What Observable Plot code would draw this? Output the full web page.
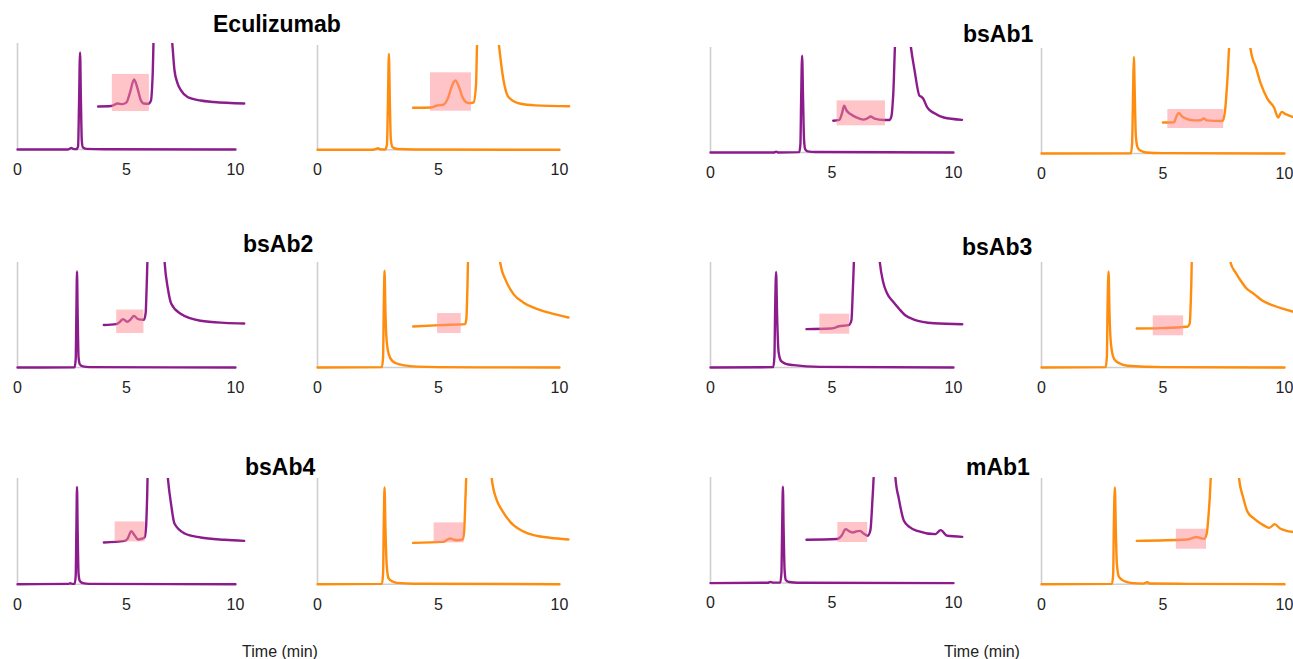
<!DOCTYPE html>
<html>
<head>
<meta charset="utf-8">
<script src="https://cdn.jsdelivr.net/npm/d3@7"></script>
<script src="https://cdn.jsdelivr.net/npm/@observablehq/plot@0.6"></script>
<style>
html,body{margin:0;padding:0;background:#fff;}
#chart{position:relative;width:1293px;height:659px;overflow:hidden;background:#fff;}
#chart svg{position:absolute;}
</style>
</head>
<body>
<div id="chart"></div>
<script>
// ---------- DATA ----------
const sampleNames = ["Eculizumab", "bsAb1", "bsAb2", "bsAb3", "bsAb4", "mAb1"];
const axisTitle = "Time (min)";
const tickValues = [0, 5, 10];

// Each trace: [time (min), signal (% of panel height)]
const ecuPurpleMain = [[0,0],[2.3,0],[2.4,0.8],[2.47,1.5],[2.55,0.6],[2.7,0.3],[2.78,3],[2.82,40],[2.87,91.5],[2.91,45],[2.95,8],[3.0,2],[3.15,0.6],[4,0.2],[10,0]];
const ecuPurpleInset = [[3.7,40.6],[4.3,41],[4.6,43.4],[4.8,42.8],[5.0,44.5],[5.15,53],[5.35,66],[5.5,58],[5.65,47],[5.8,43.4],[6.0,43.2],[6.12,46],[6.2,70],[6.26,110],[7.05,110],[7.1,100],[7.2,75],[7.35,62],[7.5,55.7],[7.8,49.5],[8.4,46.2],[9.0,44.8],[10.4,43.4]];
const ecuPurpleBox = [4.35, 6.05, 35.8, 70.8];

const ecuOrangeMain = [[0,0],[2.3,0],[2.42,0.8],[2.5,1.5],[2.58,0.5],[2.8,0.3],[2.87,5],[2.91,45],[2.95,92],[2.99,45],[3.03,10],[3.1,2.5],[3.3,0.8],[4,0.3],[10,0]];
const ecuOrangeInset = [[3.95,40.3],[4.7,40.6],[4.94,42.5],[5.2,43.2],[5.4,50],[5.55,61],[5.7,66.4],[5.85,60],[6.0,50],[6.15,45.5],[6.3,44.7],[6.45,45.5],[6.55,62],[6.61,110],[7.45,110],[7.5,100],[7.65,72],[7.9,50.4],[8.4,44.1],[9.0,42.6],[10.4,41.8]];
const ecuOrangeBox = [4.67, 6.36, 37, 73.8];

const bsAb1PurpleMain = [[0,0],[2.6,0],[2.7,0.8],[2.8,0],[3.65,0.3],[3.7,8],[3.73,50],[3.77,92.1],[3.81,50],[3.85,12],[3.9,3],[4.0,1],[4.3,0.4],[10,0]];
const bsAb1PurpleInset = [[5.05,30.2],[5.3,31],[5.42,38],[5.5,44.5],[5.6,40],[5.76,36.6],[6.0,33.5],[6.3,31.3],[6.5,33],[6.58,34.3],[6.75,32.3],[7.13,31],[7.37,31],[7.45,35],[7.52,55],[7.62,110],[8.2,110],[8.25,100],[8.4,78],[8.6,54],[8.68,53],[8.74,51.8],[8.92,42.9],[9.2,37.5],[9.6,33.3],[10.35,31.1]];
const bsAb1PurpleBox = [5.21, 7.2, 25.4, 49.2];

const bsAb1OrangeMain = [[0,0],[3.68,0.2],[3.73,10],[3.77,60],[3.8,92],[3.84,55],[3.88,18],[3.95,6],[4.05,3],[4.3,1],[5,0.3],[10,0]];
const bsAb1OrangeInset = [[5.0,29.5],[5.45,29.8],[5.55,35],[5.64,38.7],[5.8,35],[5.94,33.3],[6.3,31.5],[6.56,31.7],[6.67,33.3],[6.8,31.5],[7.45,31],[7.55,40],[7.65,70],[7.76,110],[8.55,110],[8.6,100],[8.72,88],[8.78,85],[9.02,66.7],[9.3,52],[9.57,43.8],[9.74,34.3],[9.88,39.6],[10.05,37.5],[10.33,34.9]];
const bsAb1OrangeBox = [5.2, 7.5, 23.8, 41.9];

const bsAb2PurpleMain = [[0,0],[2.62,0.2],[2.67,8],[2.7,50],[2.73,91.4],[2.76,50],[2.8,10],[2.86,3],[3.0,1],[3.3,0.3],[10,0]];
const bsAb2PurpleInset = [[3.96,40.4],[4.53,41.3],[4.7,43.5],[4.84,46.1],[5.03,43.5],[5.2,46],[5.34,49.2],[5.53,46.1],[5.8,45.4],[5.88,52],[5.93,80],[5.98,110],[6.72,110],[6.75,100],[6.9,75],[7.06,60.4],[7.5,50.9],[8.4,44.5],[9.5,42.5],[10.4,41.9]];
const bsAb2PurpleBox = [4.55, 5.8, 32.4, 54.7];

const bsAb2OrangeMain = [[0,0],[2.66,0.3],[2.71,10],[2.74,60],[2.77,92.1],[2.81,50],[2.86,25],[2.94,13],[3.1,6],[3.28,3.8],[3.6,2],[4.1,0.8],[5,0.3],[10,0]];
const bsAb2OrangeInset = [[3.95,39],[5.06,40.4],[6.1,41.3],[6.15,46],[6.2,80],[6.23,110],[7.5,110],[7.55,100],[7.8,82],[8.1,69.9],[8.5,62],[8.93,57.1],[9.6,52],[10.37,47.6]];
const bsAb2OrangeBox = [4.96, 5.94, 32.4, 51.4];

const bsAb3PurpleMain = [[0,0],[2.58,0.3],[2.63,10],[2.66,55],[2.7,91],[2.74,50],[2.8,15],[2.88,7],[2.95,5.3],[3.1,3.5],[3.43,2.2],[4.5,0.6],[10,0]];
const bsAb3PurpleInset = [[3.95,36.5],[4.94,37.1],[5.1,37.8],[5.28,39.3],[5.69,40.3],[5.8,45],[5.86,75],[5.93,110],[6.93,110],[6.97,100],[7.1,82],[7.27,70.5],[7.5,63],[7.75,56.2],[8.0,50],[8.37,45.7],[9.2,42.2],[10.36,41.2]];
const bsAb3PurpleBox = [4.5, 5.73, 31.7, 50.8];

const bsAb3OrangeMain = [[0,0],[2.64,0.3],[2.69,10],[2.72,60],[2.76,91.4],[2.8,50],[2.86,22],[2.99,8],[3.2,4],[3.54,1.6],[5,0.3],[10,0]];
const bsAb3OrangeInset = [[3.92,37.1],[4.9,37.5],[6.0,38.8],[6.1,42],[6.16,75],[6.2,110],[7.74,110],[7.78,100],[8.0,90],[8.2,82.6],[8.45,75],[8.75,69.9],[9.1,63.5],[9.57,58.8],[10.33,53.3]];
const bsAb3OrangeBox = [4.6, 5.85, 30.2, 49.2];

const bsAb4PurpleMain = [[0,0],[2.35,0.3],[2.42,0.9],[2.5,0.3],[2.62,0.3],[2.67,8],[2.7,50],[2.73,92.1],[2.76,50],[2.8,10],[2.86,3],[3.0,1],[3.3,0.3],[10,0]];
const bsAb4PurpleInset = [[3.96,39.5],[4.91,41],[5.05,43],[5.22,50.1],[5.38,46],[5.53,42.3],[5.7,43],[5.83,44.2],[5.9,55],[5.95,85],[5.98,110],[6.86,110],[6.9,100],[7.05,75],[7.2,57.4],[7.67,48],[8.4,44.2],[9.5,42],[10.4,41]];
const bsAb4PurpleBox = [4.48, 5.86, 40, 58.9];

const bsAb4OrangeMain = [[0,0],[2.66,0.3],[2.71,10],[2.74,60],[2.77,91.5],[2.81,50],[2.86,18],[2.94,5.4],[3.1,2.5],[3.28,1.2],[4,0.4],[10,0]];
const bsAb4OrangeInset = [[3.95,39.1],[5.2,40],[5.35,42],[5.48,43.2],[5.62,42.2],[5.76,41.6],[6.0,42.3],[6.06,50],[6.12,85],[6.17,110],[7.16,110],[7.2,100],[7.4,80],[7.62,70],[8.1,55.8],[8.5,50],[8.93,46.4],[9.6,44],[10.37,42.3]];
const bsAb4OrangeBox = [4.82, 6.06, 39.1, 58];

const mAb1PurpleMain = [[0,0],[2.35,0.3],[2.47,1.2],[2.58,0.4],[2.87,0.4],[2.92,10],[2.95,55],[2.98,91.2],[3.01,50],[3.05,12],[3.1,3],[3.25,1],[3.6,0.3],[10,0]];
const mAb1PurpleInset = [[3.95,41],[5.21,41.7],[5.4,45],[5.56,51.1],[5.72,49],[5.87,47.9],[6.0,49],[6.15,49.5],[6.3,47],[6.47,44.8],[6.58,50],[6.68,85],[6.75,110],[7.58,110],[7.61,100],[7.75,80],[7.96,59],[8.2,53],[8.51,49.5],[9.26,46.4],[9.47,50.2],[9.74,44.8],[10.36,43.8]];
const mAb1PurpleBox = [5.24, 6.47, 38.4, 57.4];

const mAb1OrangeMain = [[0,0],[2.9,0.3],[2.95,10],[2.98,60],[3.02,91.5],[3.06,50],[3.1,20],[3.19,6.9],[3.4,3],[3.67,1.2],[4.2,0.5],[4.3,1.5],[4.36,1.9],[4.45,0.6],[6,0.3],[10,0]];
const mAb1OrangeInset = [[3.92,41],[6.0,42.3],[6.2,43.5],[6.37,44.7],[6.55,43.5],[6.69,42.9],[6.8,48],[6.92,80],[7.0,110],[8.1,110],[8.13,100],[8.3,82],[8.48,68.4],[8.75,62],[9.02,57.4],[9.2,55],[9.37,53.3],[9.6,56.8],[9.8,53],[10.33,49.5]];
const mAb1OrangeBox = [5.55, 6.79, 33.1, 52];

// ---------- LAYOUT / STYLE ----------
const PURPLE = "#8c1c8c", ORANGE = "#ff8c0c";
const cols = [ {L:16.5, ppu:21.8}, {L:317, ppu:24.2}, {L:710, ppu:24.3}, {L:1040.5, ppu:24.3} ];
const panels = [
  {main:ecuPurpleMain, inset:ecuPurpleInset, box:ecuPurpleBox, color:PURPLE, col:0, T:43, B:149},
  {main:ecuOrangeMain, inset:ecuOrangeInset, box:ecuOrangeBox, color:ORANGE, col:1, T:45, B:149.3},
  {main:bsAb1PurpleMain, inset:bsAb1PurpleInset, box:bsAb1PurpleBox, color:PURPLE, col:2, T:46.7, B:151.7},
  {main:bsAb1OrangeMain, inset:bsAb1OrangeInset, box:bsAb1OrangeBox, color:ORANGE, col:3, T:48.3, B:153.3},
  {main:bsAb2PurpleMain, inset:bsAb2PurpleInset, box:bsAb2PurpleBox, color:PURPLE, col:0, T:261.7, B:366.7},
  {main:bsAb2OrangeMain, inset:bsAb2OrangeInset, box:bsAb2OrangeBox, color:ORANGE, col:1, T:261.7, B:366.7},
  {main:bsAb3PurpleMain, inset:bsAb3PurpleInset, box:bsAb3PurpleBox, color:PURPLE, col:2, T:262.3, B:367.3},
  {main:bsAb3OrangeMain, inset:bsAb3OrangeInset, box:bsAb3OrangeBox, color:ORANGE, col:3, T:261.7, B:366.7},
  {main:bsAb4PurpleMain, inset:bsAb4PurpleInset, box:bsAb4PurpleBox, color:PURPLE, col:0, T:478.3, B:584},
  {main:bsAb4OrangeMain, inset:bsAb4OrangeInset, box:bsAb4OrangeBox, color:ORANGE, col:1, T:478.3, B:584},
  {main:mAb1PurpleMain, inset:mAb1PurpleInset, box:mAb1PurpleBox, color:PURPLE, col:2, T:476.7, B:582.3},
  {main:mAb1OrangeMain, inset:mAb1OrangeInset, box:mAb1OrangeBox, color:ORANGE, col:3, T:478.3, B:584}
];
const titlePos = [ {x:213, y:32}, {x:963, y:42}, {x:243, y:252}, {x:962, y:255}, {x:245, y:475}, {x:966, y:475} ];
const axisTitlePos = [ {x:280, y:657}, {x:982, y:657} ];

const chart = document.getElementById("chart");
const FONT = "'Liberation Sans', Arial, Helvetica, sans-serif";

for (const p of panels) {
  const {L, ppu} = cols[p.col];
  const mL = 14, mR = 16, extra = 3, mB = 37, xmax = 10.5;
  const hh = p.B - p.T;
  const ymin = -extra / hh * 100;
  const svg = Plot.plot({
    width: mL + ppu * xmax + mR,
    height: hh + extra + mB,
    marginLeft: mL, marginRight: mR, marginTop: 0, marginBottom: mB,
    x: {domain: [0, xmax], ticks: tickValues, tickSize: 0, tickPadding: 11, label: null, tickFormat: d => String(d)},
    y: {domain: [ymin, 100], axis: null},
    style: {background: "transparent", fontSize: "16px", fontFamily: FONT, color: "#222", overflow: "visible"},
    marks: [
      Plot.ruleY([0], {x1: 0, x2: 10, stroke: "#cfcfcf", strokeWidth: 1.5}),
      Plot.ruleX([0], {y1: 0, y2: 100, stroke: "#cfcfcf", strokeWidth: 1.6}),
      Plot.line(p.main, {x: d => d[0], y: d => d[1], stroke: p.color, strokeWidth: 2.4, curve: "monotone-x"}),
      Plot.line(p.inset, {x: d => d[0], y: d => d[1], stroke: p.color, strokeWidth: 2.4, curve: "monotone-x", clip: true}),
      Plot.rect([p.box], {x1: d => d[0], x2: d => d[1], y1: d => d[2], y2: d => d[3], fill: "#ff8a90", fillOpacity: 0.5})
    ]
  });
  svg.style.left = (L - mL) + "px";
  svg.style.top = p.T + "px";
  chart.appendChild(svg);
}

// Titles and axis titles
const ns = "http://www.w3.org/2000/svg";
const overlay = document.createElementNS(ns, "svg");
overlay.setAttribute("width", 1293);
overlay.setAttribute("height", 659);
overlay.style.left = "0px"; overlay.style.top = "0px";
overlay.style.pointerEvents = "none";
sampleNames.forEach((name, i) => {
  const t = document.createElementNS(ns, "text");
  t.setAttribute("x", titlePos[i].x);
  t.setAttribute("y", titlePos[i].y);
  t.setAttribute("font-family", FONT);
  t.setAttribute("font-size", 23);
  t.setAttribute("font-weight", "bold");
  t.setAttribute("fill", "#000");
  t.textContent = name;
  overlay.appendChild(t);
});
axisTitlePos.forEach(pos => {
  const t = document.createElementNS(ns, "text");
  t.setAttribute("x", pos.x);
  t.setAttribute("y", pos.y);
  t.setAttribute("text-anchor", "middle");
  t.setAttribute("font-family", FONT);
  t.setAttribute("font-size", 16);
  t.setAttribute("fill", "#222");
  t.textContent = axisTitle;
  overlay.appendChild(t);
});
chart.appendChild(overlay);
</script>
</body>
</html>
